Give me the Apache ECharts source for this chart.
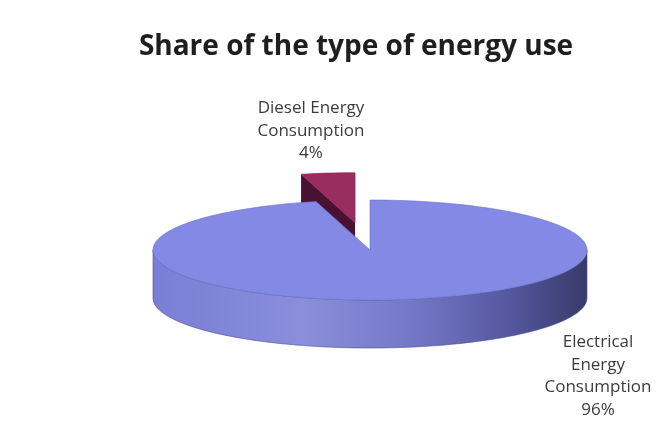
<!DOCTYPE html>
<html><head><meta charset="utf-8">
<script src="https://cdn.jsdelivr.net/npm/echarts@6/dist/echarts.min.js"></script>
<style>html,body{margin:0;padding:0;background:#fff}#c{width:660px;height:428px}</style>
</head><body><div id="c"></div>
<script>
var titleText = 'Share of the type of energy use';
var categories = ['Electrical Energy Consumption', 'Diesel Energy Consumption'];
var labelLines = [['Electrical', 'Energy', 'Consumption', '96%'], ['Diesel Energy', 'Consumption', '4%']];
var values = [96, 4];

var total = values.reduce(function (a, b) { return a + b; }, 0);
var starts = [], acc = 0;
values.forEach(function (v) { starts.push(acc / total * 360); acc += v; });

var chart = echarts.init(document.getElementById('c'));
var CX = 370, CY = 250, RX = 217, RY = 50, DEPTH = 48;
var explode = [0, 0.55];
var labelPos = [[598, 376], [311, 131]];
var topColors = ['#8589e6', '#9a2d60'];
var faceColors = ['#5b5fb0', '#4a1232'];

function pt(cx, cy, deg, dz) {
  var r = deg * Math.PI / 180;
  return [cx + RX * Math.sin(r), cy - RY * Math.cos(r) + (dz || 0)];
}
function arc(cx, cy, a0, a1, dz) {
  var pts = [], n = Math.max(2, Math.ceil(Math.abs(a1 - a0) / 2));
  for (var i = 0; i <= n; i++) pts.push(pt(cx, cy, a0 + (a1 - a0) * i / n, dz));
  return pts;
}

chart.setOption({
  backgroundColor: '#ffffff',
  animation: false,
  title: {
    text: titleText, left: 351, textAlign: 'center', top: 28,
    textStyle: { fontFamily: 'Open Sans', fontWeight: 'bold', fontSize: 28, color: '#1e1e1e' }
  },
  series: [{
    type: 'custom',
    coordinateSystem: 'none',
    data: values.map(function (v, i) { return { name: categories[i], value: v }; }),
    renderItem: function (params, api) {
      var i = params.dataIndex;
      var v = api.value(0);
      var a0 = starts[i], a1 = a0 + v / total * 360;
      var mid = (a0 + a1) / 2 * Math.PI / 180;
      var cx = CX + explode[i] * RX * Math.sin(mid);
      var cy = CY - explode[i] * RY * Math.cos(mid);
      var zb = i === 0 ? 10 : 1;
      var children = [];
      var w0 = Math.max(a0, 90), w1 = Math.min(a1, 270);
      if (w1 > w0) {
        var topArc = arc(cx, cy, w0, w1, 0);
        var botArc = arc(cx, cy, w1, w0, DEPTH);
        children.push({
          type: 'polygon', z2: zb,
          shape: { points: topArc.concat(botArc) },
          style: {
            fill: new echarts.graphic.LinearGradient(0, 0, 1, 0, [
              { offset: 0, color: '#7a7ed6' },
              { offset: 0.35, color: '#8a8edb' },
              { offset: 0.6, color: '#7377c6' },
              { offset: 0.82, color: '#55589e' },
              { offset: 1, color: '#383a6a' }
            ]),
            stroke: '#4a4d8a', lineWidth: 0.6
          }
        });
      }
      var nrm = a0 - 90;
      if (Math.cos(nrm * Math.PI / 180) < 0) {
        var p = pt(cx, cy, a0, 0);
        children.push({
          type: 'polygon', z2: zb + 1,
          shape: { points: [[cx, cy], p, [p[0], p[1] + DEPTH], [cx, cy + DEPTH]] },
          style: { fill: faceColors[i] }
        });
      }
      var topPts = [[cx, cy]].concat(arc(cx, cy, a0, a1, 0));
      children.push({
        type: 'polygon', z2: zb + 2,
        shape: { points: topPts },
        style: { fill: topColors[i], stroke: i === 0 ? '#6b6fc8' : '#7a2048', lineWidth: 0.6 }
      });
      children.push({
        type: 'text', z2: 50,
        style: {
          x: labelPos[i][0], y: labelPos[i][1],
          text: labelLines[i].join('\n'),
          textAlign: 'center', textVerticalAlign: 'middle',
          fontFamily: 'Open Sans', fontSize: 17, lineHeight: 22.5, fill: '#3c3c3c'
        }
      });
      return { type: 'group', children: children };
    }
  }]
});
</script></body></html>
